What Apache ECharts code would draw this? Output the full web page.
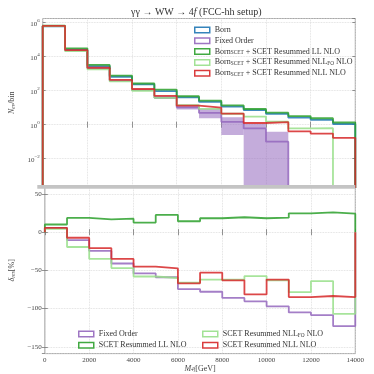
<!DOCTYPE html>
<html><head><meta charset="utf-8">
<script src="https://cdn.jsdelivr.net/npm/echarts@6/dist/echarts.min.js"></script>
<style>html,body{margin:0;padding:0;background:#fff}#c{width:374px;height:374px}</style>
</head><body><div id="c"></div>
<script>
// ---- data ----
const binEdges = [0,1000,2000,3000,4000,5000,6000,7000,8000,9000,10000,11000,12000,13000,14000];
// top panel: events per bin
const born      = [6.2e5, 2.6e4, 2800, 660, 235, 95, 40, 22, 11.5, 7.2, 4.3, 2.6, 1.9, 1.1];
const fixedOrder= [6.4e5, 2.35e4, 2140, 390, 107, 39, 10.5, 4.9, 1.45, 0.6, 0.1, 0, 0, 0];
const foBandLo  = [null, null, null, null, null, 33, 7.9, 2.4, 0.25, 0, 0, null, null, null];
const foBandHi  = [null, null, null, null, null, 48, 13.2, 8.7, 2.75, 1.1, 0.39, null, null, null];
const resLL     = [6.6e5, 3.1e4, 3300, 780, 265, 117, 47, 26, 13.8, 8.4, 5.1, 3.2, 2.4, 1.35];
const resNLLFO  = [6.4e5, 2.1e4, 1820, 350, 98, 38, 14, 8.5, 4.4, 3.0, 1.5, 0.6, 0.62, 0];
const resNLL    = [6.5e5, 2.45e4, 2240, 430, 126, 50, 13.2, 10.2, 4.5, 1.26, 1.4, 0.41, 0.3, 0.17];
// bottom panel: delta in %
const dFO     = [5.5, -10.3, -24.5, -41, -54, -59, -74.5, -78, -86, -90.5, -97, -105, -108.5, -123];
const dLL     = [10, 18.6, 16.8, 17.7, 12.5, 22.5, 14.3, 18.2, 19.5, 18.2, 19, 24.6, 25.9, 24.2];
const dNLLFO  = [4.4, -19.4, -35, -47, -58, -60, -66, -62, -62, -57.5, -63, -78.5, -64, -107];
const dNLL    = [5.7, -7.3, -21, -35, -45, -47.4, -67, -53, -63, -81.5, -62, -85, -83.5, -85];
// axis ranges (top panel in decades)
const topDecades = [-3.665, 6.247];
const bottomRange = [-158.9, 59.1];
const xRange = [0, 14000];

// ---- helpers ----
const C = {blue:'#1f77b4', purple:'#9467bd', green:'#2ca02c', lgreen:'#98df8a', red:'#d62728'};
const FONT = 'Liberation Serif';
const LOGFLOOR = 1e-6;
function steps(vals, floor){
  const pts = [[binEdges[0], floor]];
  vals.forEach((v,i)=>{
    const y = (v===null || (floor>0 && v<=0)) ? floor : v;
    pts.push([binEdges[i], y]); pts.push([binEdges[i+1], y]);
  });
  pts.push([binEdges[binEdges.length-1], floor]);
  return pts;
}
function lineSeries(name, vals, color, gi, floor){
  return {name, type:'line', xAxisIndex:gi, yAxisIndex:gi, data:steps(vals, floor),
    symbol:'none', showSymbol:false, clip:true, animation:false,
    lineStyle:{color, width:1.8, opacity:0.85}, itemStyle:{color}};
}
const bandData = [];
foBandHi.forEach((h,i)=>{ if(h!==null){ const lo = foBandLo[i] > 0 ? foBandLo[i] : LOGFLOOR; bandData.push([binEdges[i], binEdges[i+1], lo, h]); }});

const supRich = {
  b:{fontFamily:FONT, fontSize:7, color:'#444', lineHeight:10, verticalAlign:'bottom'},
  s:{fontFamily:FONT, fontSize:5, color:'#444', lineHeight:5, verticalAlign:'top'}
};
function expLabel(v){
  if (Math.abs(v - Math.round(v)) > 1e-6) return '';
  return '{b|10}{s|' + String(Math.round(v)).replace('-', '−') + '}';
}
const legRich = {
  n:{fontFamily:FONT, fontSize:8, color:'#333'},
  s:{fontFamily:FONT, fontSize:5.3, color:'#333', verticalAlign:'bottom', padding:[3,0,0,0]}
};
const legNames = {
  'Born':'{n|Born}',
  'Fixed Order':'{n|Fixed Order}',
  'LL':'{n|Born}{s|SCET}{n| + SCET Resummed LL NLO}',
  'NLLFO':'{n|Born}{s|SCET}{n| + SCET Resummed NLL}{s|FO}{n| NLO}',
  'NLL':'{n|Born}{s|SCET}{n| + SCET Resummed NLL NLO}',
  'dFO':'{n|Fixed Order}',
  'dLL':'{n|SCET Resummed LL NLO}',
  'dNLLFO':'{n|SCET Resummed NLL}{s|FO}{n| NLO}',
  'dNLL':'{n|SCET Resummed NLL NLO}'
};
function legItem(name, color){
  return {name, icon:'rect', itemStyle:{color:'#ffffff', borderColor:color, borderWidth:1.5, opacity:0.9}};
}
const legBase = {orient:'vertical', itemWidth:15, itemHeight:5.5, itemGap:2.8, selectedMode:false,
  formatter:n=>legNames[n], textStyle:{rich:legRich, fontFamily:FONT, fontSize:8, color:'#333'}};

const gridLine = {show:true, lineStyle:{color:'#d8d8d8', type:'dotted', width:0.8}};
const axLine = {show:false};
const tick = {show:true, inside:true, length:3, lineStyle:{color:'#666', width:0.7}};
const nameRich = {i:{fontFamily:FONT, fontStyle:'italic', fontSize:8, color:'#444'},
  s:{fontFamily:FONT, fontStyle:'italic', fontSize:5.5, color:'#444', verticalAlign:'bottom', padding:[3,0,0,0]},
  n:{fontFamily:FONT, fontSize:8, color:'#444'}};

const G = [
  {left:37.3, right:18.7, top:18.5, height:168.5, show:true, borderColor:'#888', borderWidth:0.8},
  {left:37.3, right:18.7, top:187, height:168.5, show:true, borderColor:'#888', borderWidth:0.8}
];
const noAx = {axisLine:axLine, axisTick:{show:false}, axisLabel:{show:false}, splitLine:{show:false}};

const option = {
  animation:false,
  backgroundColor:'#fff',
  grid:G,
  xAxis:[
    {gridIndex:0, type:'value', min:xRange[0], max:xRange[1], interval:2000, axisLine:axLine, axisTick:tick,
     axisLabel:{show:false}, splitLine:gridLine},
    {gridIndex:1, type:'value', min:xRange[0], max:xRange[1], interval:2000, axisLine:axLine, axisTick:tick,
     axisLabel:{fontFamily:FONT, fontSize:7, color:'#444', margin:3, formatter:v=>String(v)},
     splitLine:gridLine,
     name:'{i|M}{s|4f}{n|[GeV]}', nameLocation:'middle', nameGap:8, nameTextStyle:{rich:nameRich}},
    {gridIndex:0, type:'value', position:'top', min:xRange[0], max:xRange[1], interval:2000, axisLine:axLine, axisTick:tick, axisLabel:{show:false}, splitLine:{show:false}},
    {gridIndex:1, type:'value', position:'top', min:xRange[0], max:xRange[1], interval:2000, axisLine:axLine, axisTick:tick, axisLabel:{show:false}, splitLine:{show:false}}
  ],
  yAxis:[
    // data axis for top panel (log scale), drawn without decorations
    Object.assign({gridIndex:0, type:'log', logBase:10, position:'left',
      min:Math.pow(10,topDecades[0]), max:Math.pow(10,topDecades[1])}, noAx),
    {gridIndex:1, type:'value', position:'left', min:bottomRange[0], max:bottomRange[1], splitNumber:5,
     axisLine:axLine, axisTick:tick, splitLine:gridLine,
     axisLabel:{fontFamily:FONT, fontSize:7, color:'#444', margin:3, showMinLabel:false, showMaxLabel:false,
       formatter:v=> (Math.abs(v%50)<1e-6 ? String(v).replace('-', '−') : '')},
     name:'{i|δ}{s|res}{n|[%]}', nameLocation:'middle', nameGap:21, nameTextStyle:{rich:nameRich}},
    // decade tick/label axis for the top panel (same pixel mapping as the log axis)
    {gridIndex:0, type:'value', position:'left', min:topDecades[0], max:topDecades[1], splitNumber:5,
     axisLine:axLine, axisTick:tick, splitLine:gridLine,
     axisLabel:{formatter:expLabel, rich:supRich, margin:3, showMinLabel:false, showMaxLabel:false},
     name:'{i|N}{s|ev}{n|/bin}', nameLocation:'middle', nameGap:19, nameTextStyle:{rich:nameRich}},
    {gridIndex:0, type:'value', position:'right', min:topDecades[0], max:topDecades[1], splitNumber:5,
     axisLine:axLine, axisTick:tick, axisLabel:{show:false}, splitLine:{show:false}},
    {gridIndex:1, type:'value', position:'right', min:bottomRange[0], max:bottomRange[1], splitNumber:5,
     axisLine:axLine, axisTick:tick, axisLabel:{show:false}, splitLine:{show:false}}
  ],
  legend:[
    Object.assign({}, legBase, {left:189, top:21, data:[legItem('Born',C.blue), legItem('Fixed Order',C.purple), legItem('LL',C.green), legItem('NLLFO',C.lgreen), legItem('NLL',C.red)]}),
    Object.assign({}, legBase, {left:73, top:325, itemGap:3.3, data:[legItem('dFO',C.purple), legItem('dLL',C.green)]}),
    Object.assign({}, legBase, {left:197, top:325, itemGap:3.3, data:[legItem('dNLLFO',C.lgreen), legItem('dNLL',C.red)]})
  ],
  graphic:[
    {type:'text', x:196.3, y:12, z:100, style:{text:'{n|γγ → WW → 4}{i|f}{n| (FCC-hh setup)}', align:'center', verticalAlign:'middle',
      rich:{n:{fontFamily:FONT, fontSize:10, fill:'#333'}, i:{fontFamily:FONT, fontSize:10, fontStyle:'italic', fill:'#333'}}}},
    {type:'rect', z:100, shape:{x:37.3, y:185, width:318, height:3.8}, style:{fill:'#c4c4c4'}}
  ],
  series:[
    {name:'FO band', type:'custom', xAxisIndex:0, yAxisIndex:0, data:bandData, clip:true, z:1,
     encode:{x:[0,1], y:[2,3]},
     renderItem:function(params, api){
       const p0 = api.coord([api.value(0), api.value(3)]);
       const p1 = api.coord([api.value(1), api.value(2)]);
       const r = echarts.graphic.clipRectByRect(
         {x:p0[0], y:p0[1], width:p1[0]-p0[0], height:p1[1]-p0[1]},
         {x:params.coordSys.x, y:params.coordSys.y, width:params.coordSys.width, height:params.coordSys.height});
       return r && {type:'rect', shape:r, style:{fill:'rgba(148,103,189,0.55)'}};
     }},
    lineSeries('Born', born, C.blue, 0, LOGFLOOR),
    lineSeries('Fixed Order', fixedOrder, C.purple, 0, LOGFLOOR),
    lineSeries('LL', resLL, C.green, 0, LOGFLOOR),
    lineSeries('NLLFO', resNLLFO, C.lgreen, 0, LOGFLOOR),
    lineSeries('NLL', resNLL, C.red, 0, LOGFLOOR),
    lineSeries('dFO', dFO, C.purple, 1, 0),
    lineSeries('dLL', dLL, C.green, 1, 0),
    lineSeries('dNLLFO', dNLLFO, C.lgreen, 1, 0),
    lineSeries('dNLL', dNLL, C.red, 1, 0)
  ]
};
const chart = echarts.init(document.getElementById('c'), null, {renderer:'canvas'});
chart.setOption(option);
</script></body></html>
